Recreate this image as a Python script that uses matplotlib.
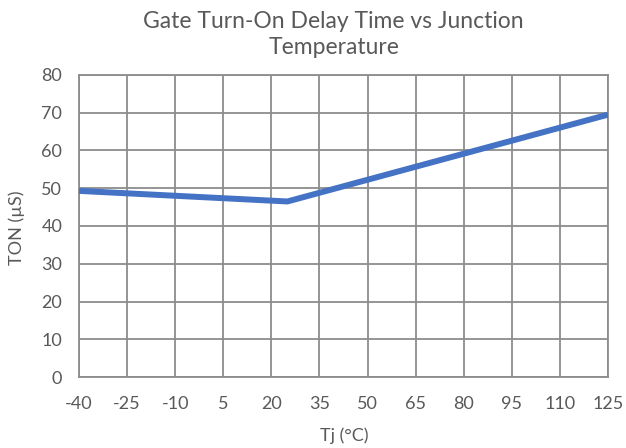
import numpy as np
from matplotlib import pyplot as plt

temps = [-40, 25, 125]
ton = [49.3, 46.5, 69.5]
x_ticks = list(range(-40, 126, 15))
y_ticks = list(range(0, 81, 10))

plt.rcParams['font.family'] = ['Lato', 'DejaVu Sans']
plt.rcParams['axes.unicode_minus'] = False
text_color = '#595959'
grid_color = '#8c8c8c'

fig = plt.figure(figsize=(6.26, 4.48), dpi=100)
W, H = 626, 448
ax = fig.add_axes([79 / W, 1 - 377 / H, (608 - 79) / W, (377 - 75) / H])

ax.plot(temps, ton, color='#4472C4', linewidth=4.3, solid_capstyle='butt', zorder=3)

ax.set_xlim(-40, 125)
ax.set_ylim(0, 80)
ax.set_xticks(x_ticks)
ax.set_yticks(y_ticks)
ax.grid(True, color=grid_color, linewidth=1.3)
for s in ax.spines.values():
    s.set_color(grid_color)
    s.set_linewidth(1.3)
ax.tick_params(length=0, labelsize=13, labelcolor=text_color)
ax.tick_params(axis='x', pad=14)
ax.tick_params(axis='y', pad=12)

fig.text(344 / W, 1 - 436 / H, 'Tj (°C)', ha='center', va='center', fontsize=13, color=text_color)
fig.text(17 / W, 1 - 228 / H, 'TON (µS)', ha='center', va='center', rotation=90, fontsize=13, color=text_color)
fig.text(333 / W, 1 - 21 / H, 'Gate Turn-On Delay Time vs Junction', ha='center', va='center', fontsize=16.5, color=text_color)
fig.text(334 / W, 1 - 47 / H, 'Temperature', ha='center', va='center', fontsize=16.5, color=text_color)

fig.savefig('out.png', dpi=100)
